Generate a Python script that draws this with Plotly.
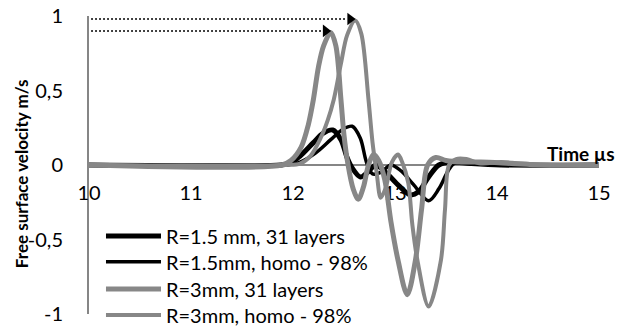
import plotly.graph_objects as go

# ---- data ----
t_black31 = [10.0, 11.88, 11.97, 12.07, 12.2, 12.29, 12.39, 12.47, 12.53, 12.58, 12.66, 12.73, 12.81,
             12.91, 13.04, 13.15, 13.23, 13.33, 13.43, 13.55, 13.74, 14.04, 15.0]
v_black31 = [0.0, 0.0, 0.01, 0.06, 0.15, 0.21, 0.235, 0.17, 0.05, -0.02, -0.08, -0.05, 0.0,
             -0.05, -0.14, -0.2, -0.18, -0.08, 0.0, 0.02, 0.01, 0.0, 0.0]

t_blackhomo = [10.0, 11.93, 12.07, 12.22, 12.37, 12.49, 12.58, 12.66, 12.72, 12.78, 12.86, 12.96,
               13.06, 13.18, 13.33, 13.43, 13.52, 13.58, 13.69, 13.94, 14.23, 15.0]
v_blackhomo = [0.0, 0.0, 0.02, 0.08, 0.17, 0.24, 0.26, 0.18, 0.02, -0.06, -0.05, 0.0,
               -0.04, -0.13, -0.24, -0.16, -0.04, 0.01, 0.02, 0.01, 0.0, 0.0]

t_gray31 = [10.0, 11.89, 11.98, 12.08, 12.15, 12.2, 12.25, 12.3, 12.37, 12.42, 12.47, 12.5, 12.54,
            12.59, 12.64, 12.69, 12.74, 12.79, 12.84, 12.9, 12.96, 13.03, 13.12, 13.2, 13.26,
            13.32, 13.4, 13.5, 13.65, 13.84, 14.14, 14.43, 15.0]
v_gray31 = [0.0, 0.0, 0.03, 0.12, 0.27, 0.44, 0.66, 0.8, 0.89, 0.8, 0.44, 0.2, 0.0,
            -0.16, -0.23, -0.15, 0.0, 0.07, 0.03, -0.1, -0.38, -0.64, -0.87, -0.64, -0.3,
            0.0, 0.05, 0.03, 0.02, 0.02, 0.01, 0.0, 0.0]

t_grayhomo = [10.0, 11.93, 12.07, 12.17, 12.27, 12.34, 12.4, 12.47, 12.53, 12.61, 12.67, 12.74,
              12.78, 12.82, 12.86, 12.91, 12.97, 13.03, 13.07, 13.13, 13.17, 13.22, 13.33,
              13.45, 13.49, 13.53, 13.6, 13.7, 13.84, 14.04, 14.23, 14.63, 15.0]
v_grayhomo = [0.0, 0.0, 0.01, 0.06, 0.18, 0.3, 0.44, 0.68, 0.87, 0.97, 0.88, 0.44,
              0.15, -0.05, -0.22, -0.15, 0.02, 0.07, 0.02, -0.12, -0.4, -0.64, -0.95,
              -0.64, -0.3, 0.0, 0.04, 0.04, 0.01, 0.02, 0.01, 0.0, 0.0]

names = ["R=1.5 mm, 31 layers", "R=1.5mm, homo - 98%", "R=3mm, 31 layers", "R=3mm, homo - 98%"]
x_ticks = [10, 11, 12, 13, 14, 15]
y_ticks = [-1, -0.5, 0, 0.5, 1]
y_ticktext = ["-1", "-0,5", "0", "0,5", "1"]
x_title = "Time µs"
y_title = "Free surface velocity m/s"

BLACK = "#000000"
GRAY = "#878787"
AXIS = "#868686"
FONT = "Lato"

series = [
    (t_black31, v_black31, BLACK, 5),
    (t_blackhomo, v_blackhomo, BLACK, 3.5),
    (t_gray31, v_gray31, GRAY, 5),
    (t_grayhomo, v_grayhomo, GRAY, 4),
]

# legend rows (paper y of each row centre)
legend_rows_y = [0.262, 0.175, 0.084, -0.003]

fig = go.Figure()
layout_legends = {}
for i, ((tx, vy, col, w), nm) in enumerate(zip(series, names)):
    lname = "legend" if i == 0 else f"legend{i + 1}"
    fig.add_trace(go.Scatter(x=tx, y=vy, mode="lines", name=nm, legend=lname,
                             line=dict(color=col, width=w, shape="spline", smoothing=0.9)))
    layout_legends[lname] = dict(x=0.0235, y=legend_rows_y[i], xanchor="left", yanchor="middle",
                                 bgcolor="rgba(0,0,0,0)", font=dict(family=FONT, size=20, color="#000"),
                                 itemwidth=55)

# dotted arrows pointing at the gray peaks (derived from data)
for tx, vy in [(t_grayhomo, v_grayhomo), (t_gray31, v_gray31)]:
    vmax = max(vy)
    tpk = tx[vy.index(vmax)]
    ya = vmax + 0.01
    tip = tpk - 0.05
    fig.add_shape(type="line", x0=x_ticks[0] + 0.02, x1=tip - 0.04, y0=ya, y1=ya,
                  xref="x", yref="y", line=dict(color=BLACK, width=1.5, dash="2px,2px"))
    fig.add_trace(go.Scatter(x=[tip], y=[ya], mode="markers", showlegend=False,
                             marker=dict(symbol="triangle-right", size=11, color=BLACK),
                             cliponaxis=False, hoverinfo="skip"))

ymin, ymax = y_ticks[0], y_ticks[-1]
fig.update_layout(
    width=617, height=330,
    margin=dict(l=89, r=18, t=16, b=16, autoexpand=False),
    paper_bgcolor="white", plot_bgcolor="white",
    font=dict(family=FONT, size=20, color="#000000"),
    showlegend=True,
    xaxis=dict(range=[x_ticks[0], x_ticks[-1]], tickvals=x_ticks,
               anchor="free", position=(0 - ymin) / (ymax - ymin),
               showline=True, linecolor=AXIS, linewidth=2, showgrid=False, zeroline=False,
               ticks="", ticklabelstandoff=10, layer="below traces"),
    yaxis=dict(range=[ymin, ymax], tickvals=y_ticks, ticktext=y_ticktext,
               showline=True, linecolor=AXIS, linewidth=2, showgrid=False, zeroline=False,
               ticks="", ticklabelstandoff=20, layer="below traces"),
    annotations=[
        dict(text="<b>" + x_title + "</b>", xref="paper", yref="paper", x=1.035, y=0.54,
             xanchor="right", yanchor="middle", showarrow=False,
             font=dict(family=FONT, size=19, color="#000")),
        dict(text="<b>" + y_title + "</b>", xref="paper", yref="paper", x=-0.131, y=0.47,
             xanchor="center", yanchor="middle", textangle=-90, showarrow=False,
             font=dict(family=FONT, size=17, color="#000")),
    ],
    **layout_legends,
)

fig.write_html("out.html", config={"displayModeBar": False},
               post_script="document.body.style.margin='0';")
